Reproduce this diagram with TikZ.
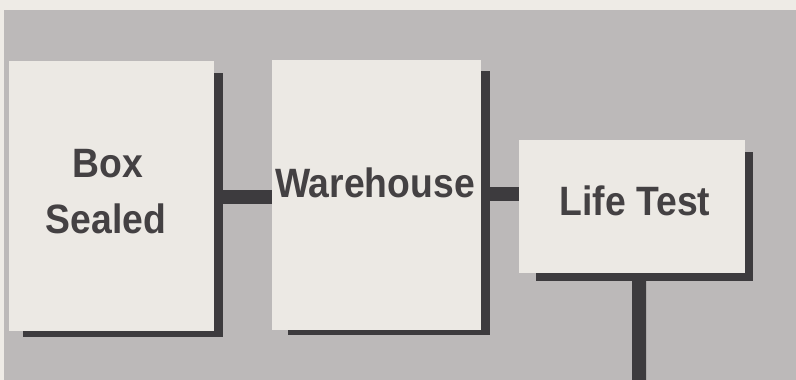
\documentclass[tikz,border=0pt]{standalone}
\usepackage{fontspec}
\setmainfont[FakeStretch=0.91]{Liberation Sans}
\definecolor{paper}{HTML}{EEEBE6}
\definecolor{bgray}{HTML}{BCB9B9}
\definecolor{boxfill}{HTML}{ECE9E4}
\definecolor{shade}{HTML}{3D3B3E}
\definecolor{ink}{HTML}{444143}
\pgfdeclarelayer{back}
\pgfdeclarelayer{mid}
\pgfsetlayers{back,mid,main}
\tikzset{
  stepbox/.style={draw=none, fill=boxfill, inner sep=0pt, anchor=north west},
  lbl/.style={anchor=base, text=ink, font=\fontsize{41}{48}\selectfont\bfseries, inner sep=0pt},
  conn/.style={draw=shade, line width=14pt},
  shadowfill/.style={fill=shade}
}
\begin{document}
\begin{tikzpicture}[x=1pt,y=-1pt]
\useasboundingbox (0,0) rectangle (796,380);
\begin{pgfonlayer}{back}
  \fill[paper] (0,0) rectangle (796,380);
  \fill[bgray] (4,10) rectangle (796,380);
\end{pgfonlayer}
% boxes
\node[stepbox, minimum width=205pt, minimum height=270pt] (b1) at (9,61) {};
\node[stepbox, minimum width=209pt, minimum height=270pt] (b2) at (272,60) {};
\node[stepbox, minimum width=226pt, minimum height=133pt] (b3) at (519,140) {};
% labels
\node[lbl] (t1a) at (108,177) {Box};
\node[lbl] (t1b) at (106,233) {Sealed};
\node[lbl] (t2) at (375,197) {Warehouse};
\node[lbl] (t3) at (635,215) {Life Test};
\coordinate (e) at (639,380);
\coordinate (c1) at ([yshift=-1pt]b1.east);
\coordinate (c2) at ([yshift=1pt]b2.east);
\begin{pgfonlayer}{mid}
  \fill[shadowfill] ([shift={(14pt,-12pt)}]b1.north west) rectangle ([shift={(9pt,-6pt)}]b1.south east);
  \fill[shadowfill] ([shift={(16pt,-11pt)}]b2.north west) rectangle ([shift={(9pt,-5pt)}]b2.south east);
  \fill[shadowfill] ([shift={(17pt,-12pt)}]b3.north west) rectangle ([shift={(8pt,-8pt)}]b3.south east);
  \draw[conn] (c1) -- (b2.west |- c1);
  \draw[conn] (c2) -- (b3.west |- c2);
  \draw[conn] ([xshift=7pt]b3.south) -- (e);
\end{pgfonlayer}
\end{tikzpicture}
\end{document}
